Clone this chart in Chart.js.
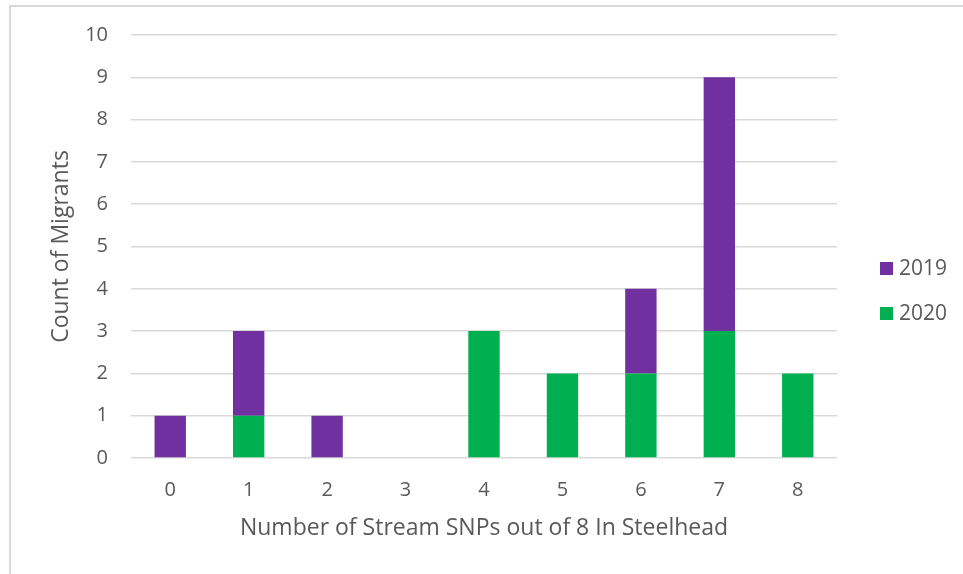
<!DOCTYPE html>
<html>
<head>
<meta charset="utf-8">
<script src="https://cdn.jsdelivr.net/npm/chart.js@4"></script>
<style>
  html, body { margin: 0; padding: 0; background: #fff; }
  #wrap { position: relative; width: 963px; height: 574px; overflow: hidden; font-family: 'Open Sans', sans-serif; }
  #frame { position: absolute; left: 9px; top: 5px; right: -5px; bottom: -5px; border-left: 2px solid #d9d9d9; border-top: 2px solid #d9d9d9; }
  #chart { position: absolute; left: 0; top: 0; }
  .legend-item { position: absolute; left: 880px; height: 26px; line-height: 26px; font-size: 21px; color: #595959; }
  .legend-item span { display: inline-block; width: 13px; height: 13px; margin-right: 6px; vertical-align: 0px; }
</style>
</head>
<body>
<div id="wrap">
  <div id="frame"></div>
  <canvas id="chart" width="963" height="574"></canvas>
  <div class="legend-item" style="top: 254px;"><span style="background:#7030A0"></span>2019</div>
  <div class="legend-item" style="top: 299px;"><span style="background:#00B050"></span>2020</div>
</div>
<script>
const categories = ['0', '1', '2', '3', '4', '5', '6', '7', '8'];
const counts2019 = [1, 2, 1, 0, 0, 0, 2, 6, 0];
const counts2020 = [0, 1, 0, 0, 3, 2, 2, 3, 2];
const yTicks = [0, 1, 2, 3, 4, 5, 6, 7, 8, 9, 10];

const TEXT = '#595959';
const GRID = '#d9d9d9';
const FONT = "'Open Sans'";

const ctx = document.getElementById('chart');
new Chart(ctx, {
  type: 'bar',
  data: {
    labels: categories,
    datasets: [
      // bottom of each stack
      { label: '2020', data: counts2020, backgroundColor: '#00B050' },
      { label: '2019', data: counts2019, backgroundColor: '#7030A0' }
    ]
  },
  options: {
    responsive: false,
    animation: false,
    events: [],
    categoryPercentage: 1,
    barPercentage: 0.4,
    layout: { padding: { left: 0, right: 126, top: 34, bottom: 0 } },
    plugins: { legend: { display: false }, tooltip: { enabled: false } },
    scales: {
      x: {
        stacked: true,
        grid: { display: false },
        border: { display: false },
        ticks: { color: TEXT, padding: 12, font: { family: FONT, size: 20 } },
        title: {
          display: true,
          text: 'Number of Stream SNPs out of 8 In Steelhead',
          color: TEXT,
          font: { family: FONT, size: 23 },
          padding: { top: 0, bottom: 32 }
        },
        afterFit: (scale) => { scale.height = 116; }
      },
      y: {
        stacked: true,
        min: yTicks[0],
        max: yTicks[yTicks.length - 1],
        grid: { color: GRID, lineWidth: 1.5, drawTicks: false },
        border: { display: false },
        afterBuildTicks: (scale) => { scale.ticks = yTicks.map(v => ({ value: v })); },
        ticks: { color: TEXT, padding: 23, font: { family: FONT, size: 20 } },
        title: {
          display: true,
          text: 'Count of Migrants',
          color: TEXT,
          font: { family: FONT, size: 23 },
          padding: { top: 48, bottom: 0 }
        },
        afterFit: (scale) => { scale.width = 131; }
      }
    }
  }
});
</script>
</body>
</html>
